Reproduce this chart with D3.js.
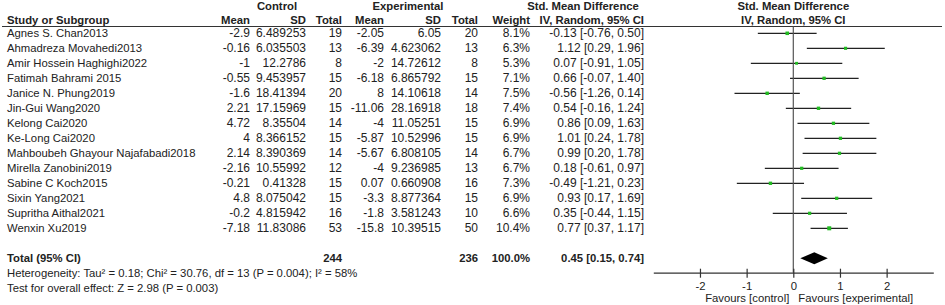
<!DOCTYPE html>
<html>
<head>
<meta charset="utf-8">
<script src="https://cdn.jsdelivr.net/npm/d3@7"></script>
<style>
  body { margin: 0; background: #fff; }
  svg { display: block; font-family: "Liberation Sans", Arial, sans-serif; font-size: 11.3px; }
  text { fill: #222; }
  .b { font-weight: bold; }
  .num { font-size: 12px; }
</style>
</head>
<body>
<svg width="945" height="305"></svg>
<script>
var studies = ["Agnes S. Chan2013", "Ahmadreza Movahedi2013", "Amir Hossein Haghighi2022", "Fatimah Bahrami 2015",
  "Janice N. Phung2019", "Jin-Gui Wang2020", "Kelong Cai2020", "Ke-Long Cai2020",
  "Mahboubeh Ghayour Najafabadi2018", "Mirella Zanobini2019", "Sabine C Koch2015", "Sixin Yang2021",
  "Supritha Aithal2021", "Wenxin Xu2019"];

// Control group
var ctrlMean = [-2.9, -0.16, -1, -0.55, -1.6, 2.21, 4.72, 4, 2.14, -2.16, -0.21, 4.8, -0.2, -7.18];
var ctrlSD = [6.489253, 6.035503, 12.2786, 9.453957, 18.41394, 17.15969, 8.35504, 8.366152, 8.390369, 10.55992, 0.41328, 8.075042, 4.815942, 11.83086];
var ctrlN = [19, 13, 8, 15, 20, 15, 14, 15, 14, 12, 15, 15, 16, 53];

// Experimental group
var expMean = [-2.05, -6.39, -2, -6.18, 8, -11.06, -4, -5.87, -5.67, -4, 0.07, -3.3, -1.8, -15.8];
var expSD = [6.05, 4.623062, 14.72612, 6.865792, 14.10618, 28.16918, 11.05251, 10.52996, 6.808105, 9.236985, 0.660908, 8.877364, 3.581243, 10.39515];
var expN = [20, 13, 8, 15, 14, 18, 15, 15, 14, 13, 16, 15, 10, 50];

// Efecto y pesos
var weight = [8.1, 6.3, 5.3, 7.1, 7.5, 7.4, 6.9, 6.9, 6.7, 6.7, 7.3, 6.9, 6.6, 10.4];
var smd = [-0.13, 1.12, 0.07, 0.66, -0.56, 0.54, 0.86, 1.01, 0.99, 0.18, -0.49, 0.93, 0.35, 0.77];
var lo = [-0.76, 0.29, -0.91, -0.07, -1.26, -0.16, 0.09, 0.24, 0.20, -0.61, -1.21, 0.17, -0.44, 0.37];
var hi = [0.50, 1.96, 1.05, 1.40, 0.14, 1.24, 1.63, 1.78, 1.78, 0.97, 0.23, 1.69, 1.15, 1.17];

var totalCtrlN = 244, totalExpN = 236, totalWeight = 100.0;
var totalSmd = 0.45, totalLo = 0.15, totalHi = 0.74;
var heterogeneity = "Heterogeneity: Tau\u00b2 = 0.18; Chi\u00b2 = 30.76, df = 13 (P = 0.004); I\u00b2 = 58%";
var overallEffect = "Test for overall effect: Z = 2.98 (P = 0.003)";
var axisTicks = [-2, -1, 0, 1, 2];

var svg = d3.select("svg");

var n = studies.length;
var y = d3.scaleLinear().domain([0, n - 1]).range([33.3, 33.3 + 15 * (n - 1)]);
var yTotal = 258.3, yAxis = 272.7;
var left = 7;

var x = d3.scaleLinear().domain([-3, 3]).range([653.3, 933.3]);

function fmtCI(m, l, h) { return m.toFixed(2) + " [" + l.toFixed(2) + ", " + h.toFixed(2) + "]"; }

// columnas (borde derecho)
var cols = [
  {x: 250, head: "Mean", val: function(i) { return String(ctrlMean[i]); }},
  {x: 306, head: "SD", val: function(i) { return String(ctrlSD[i]); }},
  {x: 342, head: "Total", val: function(i) { return String(ctrlN[i]); }},
  {x: 384, head: "Mean", val: function(i) { return String(expMean[i]); }},
  {x: 441, head: "SD", val: function(i) { return String(expSD[i]); }},
  {x: 478, head: "Total", val: function(i) { return String(expN[i]); }},
  {x: 530, head: "Weight", val: function(i) { return weight[i].toFixed(1) + "%"; }},
  {x: 644, head: "IV, Random, 95% CI", val: function(i) { return fmtCI(smd[i], lo[i], hi[i]); }}
];

// cabeceras
svg.append("text").attr("class", "b").attr("x", 277).attr("y", 10).attr("text-anchor", "middle").text("Control");
svg.append("text").attr("class", "b").attr("x", 408).attr("y", 10).attr("text-anchor", "middle").text("Experimental");
svg.append("text").attr("class", "b").attr("x", 583).attr("y", 10).attr("text-anchor", "middle").text("Std. Mean Difference");
svg.append("text").attr("class", "b").attr("x", x(0)).attr("y", 10).attr("text-anchor", "middle").text("Std. Mean Difference");
svg.append("text").attr("class", "b").attr("x", x(0)).attr("y", 24).attr("text-anchor", "middle").text("IV, Random, 95% CI");
svg.append("text").attr("class", "b").attr("x", left).attr("y", 24).text("Study or Subgroup");

cols.forEach(function(c) {
  svg.append("text").attr("class", "b").attr("x", c.x).attr("y", 24).attr("text-anchor", "end").text(c.head);
});

svg.append("line").attr("x1", 2).attr("x2", 942).attr("y1", 26.5).attr("y2", 26.5)
  .attr("stroke", "#333").attr("stroke-width", 1);

// filas
var rows = svg.selectAll(".row").data(d3.range(n)).enter().append("g").attr("class", "row");
rows.append("text").attr("x", left).attr("y", function(i) { return y(i) + 4; }).text(function(i) { return studies[i]; });
cols.forEach(function(c) {
  rows.append("text").attr("class", "num").attr("x", c.x).attr("y", function(i) { return y(i) + 4; })
    .attr("text-anchor", "end").text(function(i) { return c.val(i); });
});

// total
svg.append("text").attr("class", "b").attr("x", left).attr("y", yTotal + 4).text("Total (95% CI)");
svg.append("text").attr("class", "b").attr("x", cols[2].x).attr("y", yTotal + 4).attr("text-anchor", "end").text(totalCtrlN);
svg.append("text").attr("class", "b").attr("x", cols[5].x).attr("y", yTotal + 4).attr("text-anchor", "end").text(totalExpN);
svg.append("text").attr("class", "b").attr("x", cols[6].x).attr("y", yTotal + 4).attr("text-anchor", "end").text(totalWeight.toFixed(1) + "%");
svg.append("text").attr("class", "b").attr("x", cols[7].x).attr("y", yTotal + 4).attr("text-anchor", "end").text(fmtCI(totalSmd, totalLo, totalHi));
svg.append("text").attr("x", left).attr("y", 277).text(heterogeneity);
svg.append("text").attr("x", left).attr("y", 292).text(overallEffect);

// forest plot
svg.append("line").attr("x1", x(0)).attr("x2", x(0)).attr("y1", 26.5).attr("y2", yAxis)
  .attr("stroke", "#555").attr("stroke-width", 1.2);

rows.append("line")
  .attr("x1", function(i) { return x(lo[i]); })
  .attr("x2", function(i) { return x(hi[i]); })
  .attr("y1", function(i) { return y(i); })
  .attr("y2", function(i) { return y(i); })
  .attr("stroke", "#222").attr("stroke-width", 1.2);

rows.append("rect")
  .attr("x", function(i) { return x(smd[i]) - 0.62 * Math.sqrt(weight[i]); })
  .attr("y", function(i) { return y(i) - 0.62 * Math.sqrt(weight[i]); })
  .attr("width", function(i) { return 1.24 * Math.sqrt(weight[i]); })
  .attr("height", function(i) { return 1.24 * Math.sqrt(weight[i]); })
  .attr("fill", "#22bb22");

svg.append("path")
  .attr("d", "M" + x(totalLo) + "," + yTotal + "L" + x(totalSmd) + "," + (yTotal - 6) +
    "L" + x(totalHi) + "," + yTotal + "L" + x(totalSmd) + "," + (yTotal + 6) + "Z")
  .attr("fill", "#000");

var ax = svg.append("g").attr("transform", "translate(0," + yAxis + ")")
  .call(d3.axisBottom(x).tickValues(axisTicks).tickSizeOuter(0).tickSizeInner(0).tickPadding(9)
    .tickFormat(d3.format("d")));
ax.select(".domain").attr("stroke", "#333").attr("stroke-width", 1.2);
ax.selectAll(".tick line").attr("y1", -4).attr("y2", 5).attr("stroke", "#333").attr("stroke-width", 1.2);
ax.selectAll(".tick text").attr("font-size", 11.3).attr("font-family", "Liberation Sans, Arial, sans-serif").attr("fill", "#222");
ax.selectAll(".tick text").text(function(d) { return d < 0 ? "-" + Math.abs(d) : d; });

svg.append("text").attr("x", x(0) - 4).attr("y", 302).attr("text-anchor", "end").text("Favours [control]");
svg.append("text").attr("x", x(0) + 5).attr("y", 302).text("Favours [experimental]");
</script>
</body>
</html>
